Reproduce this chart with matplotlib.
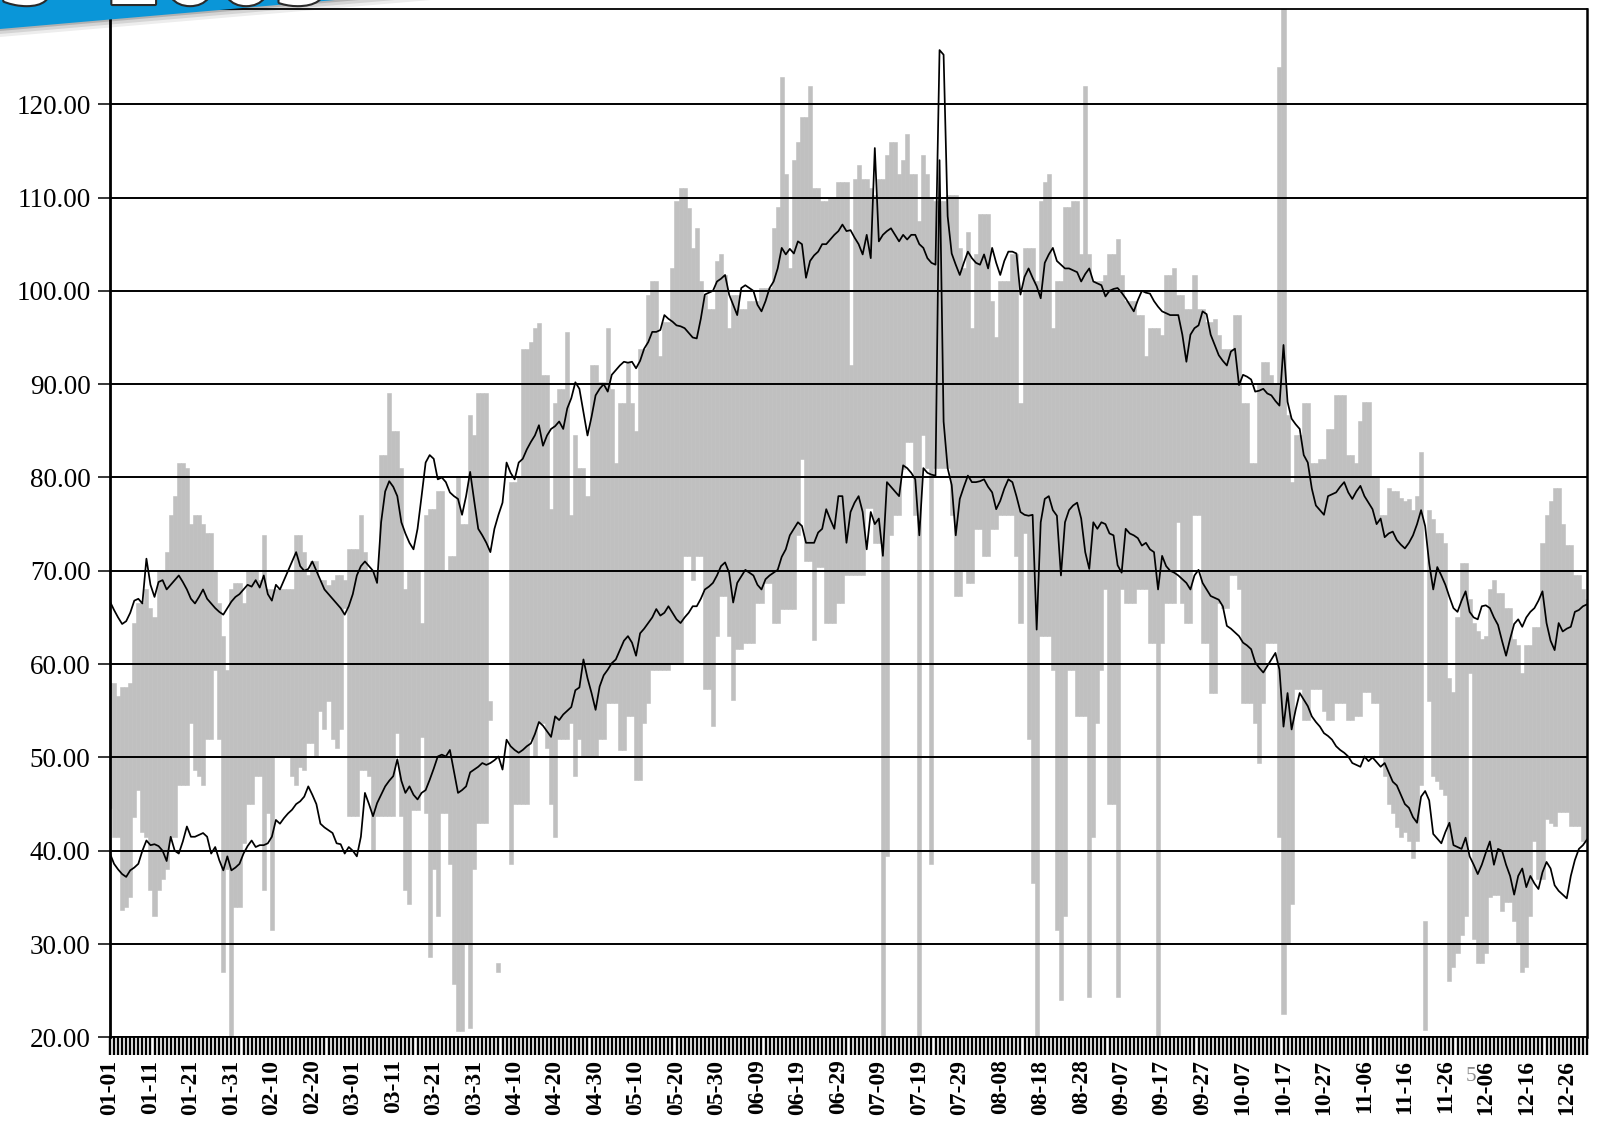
import numpy as np
import matplotlib
matplotlib.use("Agg")
import matplotlib.pyplot as plt
from matplotlib.patches import Polygon
import matplotlib.patheffects as pe

nan = np.nan

# Daily normal high (upper black line)
normal_high = [
    66.7, 65.8, 65.0, 64.3, 64.6, 65.5, 66.8, 67.0, 66.5, 71.3,
    68.5, 67.2, 68.8, 69.0, 68.0, 68.5, 69.0, 69.5, 68.8, 68.0,
    67.0, 66.5, 67.2, 68.0, 67.0, 66.5, 66.0, 65.6, 65.3, 66.0,
    66.7, 67.2, 67.5, 68.0, 68.5, 68.3, 69.0, 68.2, 69.5, 67.5,
    66.8, 68.5, 68.0, 69.0, 70.0, 71.0, 72.0, 70.5, 70.0, 70.2,
    71.0, 70.0, 69.0, 68.0, 67.5, 67.0, 66.5, 66.0, 65.3, 66.2,
    67.5, 69.5, 70.5, 71.0, 70.5, 70.0, 68.7, 75.2, 78.5, 79.6,
    79.0, 78.0, 75.2, 74.0, 73.0, 72.3, 74.5, 78.0, 81.6, 82.4,
    82.0, 79.8, 80.0, 79.5, 78.4, 78.0, 77.7, 76.0, 78.0, 80.6,
    77.5, 74.5, 73.8, 73.0, 72.0, 74.5, 76.0, 77.3, 81.6, 80.5,
    79.8, 81.6, 82.0, 83.0, 83.8, 84.5, 85.6, 83.4, 84.5, 85.2,
    85.5, 86.0, 85.2, 87.4, 88.5, 90.2, 89.5, 87.0, 84.5, 86.5,
    88.8, 89.5, 90.0, 89.2, 91.0, 91.5, 92.0, 92.4, 92.3, 92.4,
    91.7, 92.5, 93.8, 94.5, 95.6, 95.6, 95.8, 97.4, 97.0, 96.7,
    96.3, 96.2, 96.0, 95.5, 95.0, 94.9, 97.0, 99.6, 99.8, 100.0,
    101.0, 101.3, 101.7, 99.6, 98.5, 97.4, 100.3, 100.6, 100.3, 100.0,
    98.5, 97.8, 98.9, 100.3, 101.0, 102.4, 104.6, 103.9, 104.5, 104.0,
    105.3, 105.0, 101.4, 103.2, 103.8, 104.2, 105.0, 105.0, 105.5, 106.0,
    106.4, 107.1, 106.4, 106.5, 105.7, 105.0, 103.9, 106.0, 103.5, 115.3,
    105.3, 106.0, 106.4, 106.7, 106.0, 105.3, 106.0, 105.5, 106.0, 106.0,
    105.0, 104.6, 103.5, 103.0, 102.8, 125.8, 125.3, 108.0, 104.0, 102.8,
    101.7, 103.0, 104.2, 103.5, 103.0, 102.8, 103.9, 102.4, 104.6, 103.0,
    101.7, 103.2, 104.2, 104.2, 104.0, 99.6, 101.5, 102.4, 101.4, 100.5,
    99.2, 103.0, 103.9, 104.6, 103.2, 102.8, 102.4, 102.4, 102.2, 102.0,
    101.0, 101.8, 102.4, 101.0, 100.8, 100.6, 99.4, 100.0, 100.2, 100.3,
    99.8, 99.2, 98.5, 97.8, 99.0, 100.0, 99.8, 99.7, 98.9, 98.3,
    97.8, 97.6, 97.4, 97.4, 97.4, 95.3, 92.4, 95.3, 96.0, 96.3,
    97.8, 97.5, 95.3, 94.2, 93.1, 92.5, 92.0, 93.5, 93.8, 89.9,
    91.0, 90.8, 90.5, 89.2, 89.3, 89.5, 89.0, 88.8, 88.2, 87.7,
    94.2, 88.1, 86.3, 85.7, 85.2, 82.4, 81.6, 78.8, 77.0, 76.5,
    76.0, 78.0, 78.2, 78.4, 79.0, 79.5, 78.4, 77.7, 78.5, 79.1,
    78.0, 77.3, 76.6, 75.0, 75.6, 73.6, 74.0, 74.2, 73.3, 72.8,
    72.4, 73.0, 73.8, 75.0, 76.5, 74.8, 70.8, 68.0, 70.4, 69.5,
    68.5, 67.2, 66.0, 65.6, 66.8, 67.8, 65.6, 65.0, 64.8, 66.2,
    66.3, 66.0, 65.0, 64.2, 62.5, 60.9, 62.7, 64.3, 64.8, 64.0,
    65.0, 65.6, 66.0, 66.8, 67.8, 64.4, 62.5, 61.5, 64.4, 63.5,
    63.8, 64.0, 65.6, 65.8, 66.2, 66.4,
]

# Daily normal low (lower black line)
normal_low = [
    39.7, 38.6, 38.0, 37.5, 37.2, 37.9, 38.2, 38.6, 40.0, 41.1,
    40.6, 40.7, 40.5, 40.0, 38.9, 41.5, 40.0, 39.7, 41.0, 42.6,
    41.5, 41.5, 41.7, 41.9, 41.5, 39.7, 40.4, 39.0, 37.9, 39.4,
    37.9, 38.2, 38.6, 39.7, 40.5, 41.1, 40.4, 40.6, 40.6, 40.8,
    41.5, 43.3, 42.9, 43.5, 44.0, 44.4, 45.0, 45.3, 45.8, 46.9,
    46.0, 45.0, 42.9, 42.5, 42.2, 41.9, 40.8, 40.7, 39.7, 40.4,
    40.0, 39.4, 41.5, 46.2, 45.0, 43.7, 45.1, 46.0, 46.9, 47.5,
    48.0, 49.8, 47.5, 46.2, 46.9, 46.0, 45.5, 46.2, 46.5, 47.6,
    48.8, 50.1, 50.3, 50.1, 50.8, 48.5, 46.2, 46.5, 46.9, 48.4,
    48.7, 49.0, 49.4, 49.2, 49.4, 49.7, 50.1, 48.7, 51.9, 51.2,
    50.8, 50.5, 50.8, 51.2, 51.5, 52.5, 53.8, 53.4, 52.8, 52.2,
    54.4, 54.0, 54.6, 55.0, 55.4, 57.2, 57.5, 60.5, 58.5, 56.9,
    55.1, 57.6, 58.8, 59.4, 60.1, 60.5, 61.5, 62.5, 63.0, 62.3,
    60.9, 63.3, 63.8, 64.4, 65.0, 65.9, 65.2, 65.5, 66.2, 65.5,
    64.8, 64.4, 65.0, 65.5, 66.2, 66.2, 67.0, 68.0, 68.3, 68.7,
    69.5, 70.5, 70.9, 69.8, 66.6, 68.7, 69.4, 70.1, 69.8, 69.5,
    68.5, 68.0, 69.1, 69.5, 69.8, 70.1, 71.5, 72.3, 73.8, 74.5,
    75.2, 74.8, 73.0, 73.0, 73.0, 74.1, 74.5, 76.6, 75.5, 74.5,
    78.0, 78.0, 73.0, 76.3, 77.3, 78.0, 76.3, 72.3, 76.3, 75.0,
    75.6, 71.6, 79.5, 79.0, 78.5, 78.0, 81.3, 81.0, 80.5, 79.8,
    73.8, 81.0, 80.5, 80.3, 80.2, 114.0, 86.0, 81.0, 79.2, 73.8,
    77.7, 79.0, 80.2, 79.5, 79.5, 79.6, 79.8, 79.0, 78.4, 76.6,
    77.5, 78.8, 79.8, 79.5, 78.0, 76.3, 76.0, 75.9, 76.0, 63.7,
    75.2, 77.7, 78.0, 76.5, 75.9, 69.5, 75.2, 76.5, 77.0, 77.3,
    75.6, 72.0, 70.2, 75.2, 74.5, 75.2, 75.0, 74.0, 73.8, 70.6,
    69.8, 74.5, 74.0, 73.8, 73.5, 72.7, 73.0, 72.3, 72.0, 68.0,
    71.6, 70.5, 70.0, 69.8, 69.5, 69.1, 68.7, 68.0, 69.5, 70.1,
    68.7, 68.0, 67.3, 67.1, 66.9, 66.2, 64.1, 63.8, 63.4, 63.0,
    62.3, 62.0, 61.6, 60.2, 59.6, 59.1, 59.8, 60.5, 61.2, 59.4,
    53.3, 56.9, 53.0, 55.1, 56.9, 56.2, 55.5, 54.4, 53.8, 53.3,
    52.6, 52.3, 51.9, 51.2, 50.8, 50.5, 50.1, 49.4, 49.2, 49.0,
    50.1, 49.6, 50.0, 49.5, 49.0, 49.4, 48.4, 47.4, 47.0, 46.0,
    45.0, 44.6, 43.6, 43.0, 45.8, 46.4, 45.4, 41.8, 41.3, 40.8,
    42.0, 43.0, 40.6, 40.4, 40.2, 41.4, 39.4, 38.5, 37.5, 38.5,
    39.8, 41.0, 38.5, 40.2, 40.0, 38.5, 37.3, 35.3, 37.3, 38.1,
    36.1, 37.3, 36.5, 35.9, 37.7, 38.8, 38.1, 36.3, 35.7, 35.3,
    34.9, 37.3, 39.0, 40.2, 40.6, 41.2,
]

# Observed daily high (top of grey bar)
day_high = [
    58, 58, 56.6, 57.5, 57.5, 58, 64.4, 66.6, 66.6, 68,
    66, 65, 70, 70, 72, 76, 78, 81.6, 81.6, 81,
    75, 76, 76, 75, 74, 74, 70, 66.6, 63, 59.4,
    68, 68.7, 68.7, 66.6, 70, 70, 70, 69, 73.8, 68,
    68, 68, 68, 68, 68, 68, 73.8, 73.8, 72, 69.5,
    71, 71, 69, 69, 68.5, 69, 69.5, 69.5, 69, 72.3,
    72.3, 72.3, 76, 72, 70, 70, 70, 82.4, 82.4, 89,
    85, 85, 81, 68, 70, 70, 70, 64.4, 76, 76.6,
    76.6, 78.5, 78.5, 70, 71.6, 71.6, 80, 75, 75, 86.7,
    84.5, 89, 89, 89, 56, nan, 28, nan, nan, 79.5,
    79.5, 80, 93.8, 93.8, 94.5, 96, 96.5, 91, 91, 76.6,
    88, 89.5, 89.5, 95.6, 76, 84.5, 81, 81, 78, 92,
    92, 90.2, 90.2, 96, 89.5, 81.6, 88, 88, 92.4, 88,
    85, 93.8, 93.8, 99.6, 101, 101, 93, 96.7, 96.7, 102.4,
    109.6, 111, 111, 108.9, 104.6, 106.7, 101, 99.6, 98, 98,
    103.2, 104, 101.7, 96, 99.6, 99.6, 98, 98, 98.9, 98.9,
    98.9, 100.3, 100.3, 100.3, 106.7, 109, 122.9, 112.5, 102.4, 114,
    116, 118.6, 118.6, 122, 111, 111, 109.6, 109.6, 110, 110,
    111.7, 111.7, 111.7, 92, 112, 113.5, 112, 112, 111, 110.3,
    112, 112, 114.6, 116, 116, 112.5, 114, 116.8, 112.5, 112.5,
    107.5, 114.6, 112.5, 110, 109.6, 109.6, 109.6, 110.3, 110.3, 110.3,
    104.6, 102.4, 106.3, 96, 104, 108.2, 108.2, 108.2, 98.9, 95,
    101, 101, 101, 104, 104, 88, 104.6, 104.6, 104.6, 101,
    109.6, 111.7, 112.5, 96, 101, 101, 109, 109, 109.6, 109.6,
    104, 122, 104, 101, 101, 101, 101.7, 103.9, 103.9, 105.6,
    101.7, 98.9, 98.9, 98.9, 97.4, 97.4, 93, 96, 96, 96,
    95.3, 101.7, 101.7, 102.4, 99.6, 99.6, 98, 98, 101.7, 98,
    98, 96.7, 96.7, 97, 95.3, 93.8, 93.8, 93.8, 97.4, 97.4,
    88, 88, 81.6, 81.6, 90, 92.4, 92.4, 91, 90, 124,
    135, 86.7, 79.5, 84.5, 84.5, 88, 88, 81.6, 81.6, 82,
    82, 85.2, 85.2, 88.8, 88.8, 88.8, 82.4, 82.4, 81.6, 86,
    88.1, 88.1, 80.2, 80.2, 76, 76, 78.9, 78.5, 78.5, 77.8,
    77.5, 77.7, 76.5, 78.0, 82.7, 32.5, 76.5, 75.5, 74, 74,
    73, 58.5, 57, 65, 70.8, 70.8, 67, 64.4, 63.5, 62.7,
    63, 68, 69, 67.6, 67.6, 66, 66, 62.7, 62, 59,
    62, 62, 64, 64, 73, 76, 77.5, 78.9, 78.9, 75,
    72.8, 72.8, 69.6, 69.6, 68, 67,
]

# Observed daily low (bottom of grey bar)
day_low = [
    44.6, 41.5, 41.5, 33.6, 34, 35, 43.6, 46.5, 42, 41.5,
    35.8, 33, 35.8, 37, 38, 41.5, 41.5, 47, 47, 47,
    53.7, 48.7, 48, 47, 52, 52, 59.4, 52, 27, 38,
    20, 34, 34, 40.8, 45, 45, 48, 48, 35.8, 44,
    31.5, 50, 50, 50, 50, 48, 47, 49, 48.7, 51.5,
    51.5, 50, 55, 53, 56, 52, 51, 53, 66, 43.7,
    43.7, 43.7, 48.7, 48.7, 48, 40, 43.7, 43.7, 43.7, 43.7,
    43.7, 52.6, 43.7, 35.8, 34.3, 44.4, 44.4, 52.2, 44, 28.6,
    38, 33, 44, 44, 38.6, 25.7, 20.7, 20.7, 30, 21,
    38, 43, 43, 43, 54, nan, 27, nan, nan, 38.6,
    45, 45, 45, 45, 52, 50, 53.7, 53.7, 51, 45,
    41.5, 52, 52, 52, 53.7, 48, 52, 50, 50, 50,
    50, 52, 52, 55.8, 55.8, 55.8, 50.8, 50.8, 54.4, 54.4,
    47.6, 47.6, 53.7, 55.8, 59.4, 59.4, 59.4, 59.4, 59.4, 60,
    60, 60, 71.6, 71.6, 69, 71.6, 71.6, 57.3, 57.3, 53.4,
    63, 67.3, 67.3, 63, 56.2, 61.6, 61.6, 62.3, 62.3, 62.3,
    66.6, 66.6, 68.7, 68.7, 64.4, 64.4, 65.9, 65.9, 65.9, 65.9,
    73.8, 82, 71, 71, 62.6, 70.4, 70.4, 64.4, 64.4, 64.4,
    66.6, 66.6, 69.5, 69.5, 69.5, 69.5, 69.5, 76.7, 76.7, 73,
    73, 20, 39.4, 73.8, 76, 76, 80.9, 83.8, 83.8, 76,
    20, 84.5, 81, 38.6, 81, 81, 81, 81, 76, 67.3,
    67.3, 70, 68.7, 68.7, 74.5, 74.5, 71.6, 71.6, 74.5, 74.5,
    76, 76, 76, 76, 71.6, 64.4, 74.1, 52, 36.5, 20,
    63, 63, 63, 59.4, 31.5, 24, 33, 59.4, 59.4, 54.4,
    54.4, 54.4, 24.3, 41.5, 53.7, 59.4, 68, 45, 45, 24.3,
    68, 66.6, 66.6, 66.6, 68, 68, 68, 62.3, 62.3, 20,
    62.3, 66.6, 66.6, 66.6, 75.2, 66.6, 64.4, 64.4, 76, 76,
    62.3, 62.3, 56.9, 56.9, 66.6, 66, 66, 69.5, 69.5, 68,
    55.8, 55.8, 55.8, 53.7, 49.4, 55.8, 62.3, 62.3, 62.3, 41.5,
    22.5, 30, 34.3, 57.3, 57.3, 54, 54, 57.3, 57.3, 57.3,
    55, 54, 54, 55.8, 55.8, 55.8, 54, 54, 54.4, 54.4,
    57, 57, 55.8, 55.8, 50, 48, 45, 44, 42.5, 41.5,
    42, 41, 39.2, 41, 47, 20.8, 56, 48, 47.5, 46.6,
    46, 26, 27.5, 29, 31, 33, 59, 30.5, 28, 28,
    29, 35, 35.3, 35.3, 33.5, 34.5, 34.5, 32.5, 30, 27,
    27.5, 33, 41, 37, 37, 43.4, 43, 42.6, 44.2, 44.2,
    44.2, 42.6, 42.6, 42.6, 41, 41,
]

date_labels = [
    "01-01", "01-11", "01-21", "01-31", "02-10", "02-20", "03-01",
    "03-11", "03-21", "03-31", "04-10", "04-20", "04-30", "05-10",
    "05-20", "05-30", "06-09", "06-19", "06-29", "07-09", "07-19",
    "07-29", "08-08", "08-18", "08-28", "09-07", "09-17", "09-27",
    "10-07", "10-17", "10-27", "11-06", "11-16", "11-26", "12-06",
    "12-16", "12-26",
]
y_ticks = [20, 30, 40, 50, 60, 70, 80, 90, 100, 110, 120]

W, H = 1598, 1130
fig = plt.figure(figsize=(W / 100, H / 100), dpi=100)
fig.patch.set_facecolor("white")

ax = fig.add_axes([110 / W, 1 - 1037.4 / H, 1477 / W, (1037.4 - 9) / H])

days = np.arange(len(normal_high))
hi = np.array(day_high, dtype=float)
lo = np.array(day_low, dtype=float)

ax.bar(days, hi - lo, bottom=lo, width=1.0, color="#c0c0c0",
       edgecolor="#c0c0c0", linewidth=0.4, zorder=1)

ax.set_axisbelow(False)
ax.yaxis.grid(True, color="black", linewidth=1.4, zorder=2)

ax.plot(days, normal_high, color="black", linewidth=1.25, zorder=4)
ax.plot(days, normal_low, color="black", linewidth=1.25, zorder=4)

ax.set_xlim(0, len(days) - 1)
ax.set_ylim(20, 130.2)

ax.set_yticks(y_ticks)
ax.set_yticklabels([f"{v:.2f}" for v in y_ticks])
ax.set_xticks(np.arange(0, 10 * len(date_labels), 10))
ax.set_xticklabels(date_labels, rotation=90)
ax.set_xticks(days, minor=True)

ax.tick_params(axis="x", which="both", direction="out", length=13,
               width=1.7, color="black", pad=3)
ax.tick_params(axis="y", which="major", direction="out", length=9,
               width=1.1, pad=5)
for lab in ax.get_xticklabels():
    lab.set_fontfamily("Liberation Serif")
    lab.set_fontweight("bold")
    lab.set_fontsize(17)
for lab in ax.get_yticklabels():
    lab.set_fontfamily("Liberation Serif")
    lab.set_fontsize(19.5)

for side in ("left", "right", "top", "bottom"):
    ax.spines[side].set_color("black")
ax.spines["left"].set_linewidth(2.0)
ax.spines["right"].set_linewidth(1.8)
ax.spines["top"].set_linewidth(1.3)
ax.spines["bottom"].set_linewidth(1.3)


def px(x, y):
    return (x / W, 1 - y / H)


# Title ribbon in the top-left corner, with a soft drop shadow
for off, alpha in [(8, 0.07), (5, 0.10), (2, 0.16)]:
    fig.add_artist(Polygon(
        [px(0, 0), px(335 + 12 * off, 0), px(0, 29 + off)],
        closed=True, transform=fig.transFigure, facecolor="black",
        alpha=alpha, edgecolor="none", zorder=10))
fig.add_artist(Polygon([px(0, 0), px(335, 0), px(0, 29)], closed=True,
                       transform=fig.transFigure, facecolor="#0a96d8",
                       edgecolor="none", zorder=11))
stroke = [pe.withStroke(linewidth=3, foreground="#2a2a2a")]
fig.text(*px(-2, 4), "S", fontsize=58, fontweight="bold", color="white",
         ha="left", va="baseline", path_effects=stroke, zorder=12)
fig.text(*px(106, 4), "2003", fontsize=58, fontweight="bold", color="white",
         ha="left", va="baseline", path_effects=stroke, zorder=12)

# Small stray page number near the December labels
fig.text(*px(1466, 1081), "5", fontsize=15, family="Liberation Serif",
         color="#8a8a8a", ha="left", va="baseline")

fig.savefig("out.png", dpi=100, facecolor="white")
